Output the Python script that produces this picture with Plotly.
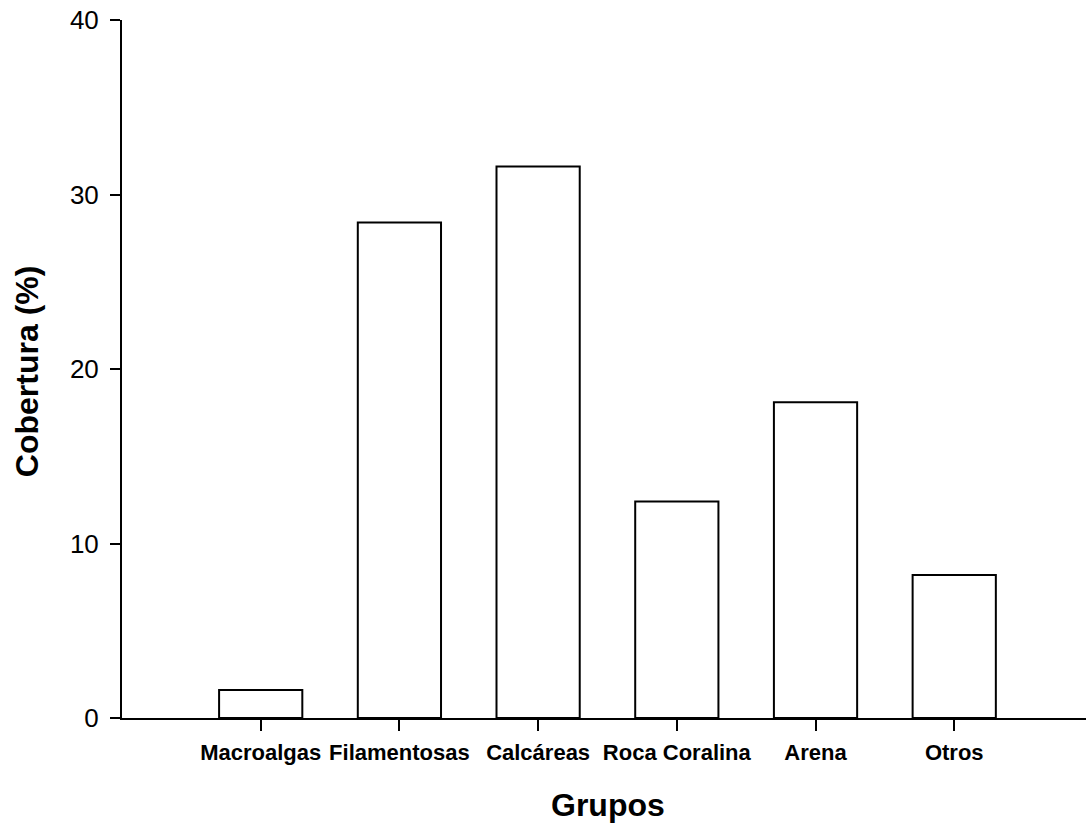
import plotly.graph_objects as go

# Cobertura media por grupo
grupos = ["Macroalgas", "Filamentosas", "Calcáreas", "Roca Coralina", "Arena", "Otros"]
cobertura = [1.6, 28.4, 31.6, 12.4, 18.1, 8.2]

y_ticks = [0, 10, 20, 30, 40]

FONT = "Liberation Sans, Arial, sans-serif"

fig = go.Figure(
    go.Bar(
        x=grupos,
        y=cobertura,
        marker=dict(color="white", line=dict(color="black", width=2)),
        width=0.6,
    )
)

fig.update_layout(
    width=1086,
    height=826,
    margin=dict(l=122, r=0, t=20, b=108),
    paper_bgcolor="white",
    plot_bgcolor="white",
    showlegend=False,
    font=dict(family=FONT, color="black"),
    annotations=[
        dict(text="<b>Grupos</b>", xref="paper", yref="paper", x=0.504, y=-0.124,
             xanchor="center", yanchor="middle", showarrow=False,
             font=dict(family=FONT, size=32, color="black")),
        dict(text="<b>Cobertura (%)</b>", xref="paper", yref="paper", x=-0.0985, y=0.497,
             xanchor="center", yanchor="middle", textangle=-90, showarrow=False,
             font=dict(family=FONT, size=32, color="black")),
    ],
)

fig.update_xaxes(
    type="category",
    range=[-1, 5.95],
    showline=True,
    linecolor="black",
    linewidth=2,
    ticks="outside",
    ticklen=11,
    tickwidth=2,
    tickcolor="black",
    showgrid=False,
    zeroline=False,
    ticklabelstandoff=3,
    tickfont=dict(family=FONT, size=22, color="black", weight="bold"),
)

fig.update_yaxes(
    range=[0, 40],
    tickvals=y_ticks,
    showline=True,
    linecolor="black",
    linewidth=2,
    ticks="outside",
    ticklen=10,
    tickwidth=2,
    tickcolor="black",
    showgrid=False,
    zeroline=False,
    ticklabelstandoff=6,
    tickfont=dict(family=FONT, size=26, color="black"),
)

fig.write_html("out.html")
